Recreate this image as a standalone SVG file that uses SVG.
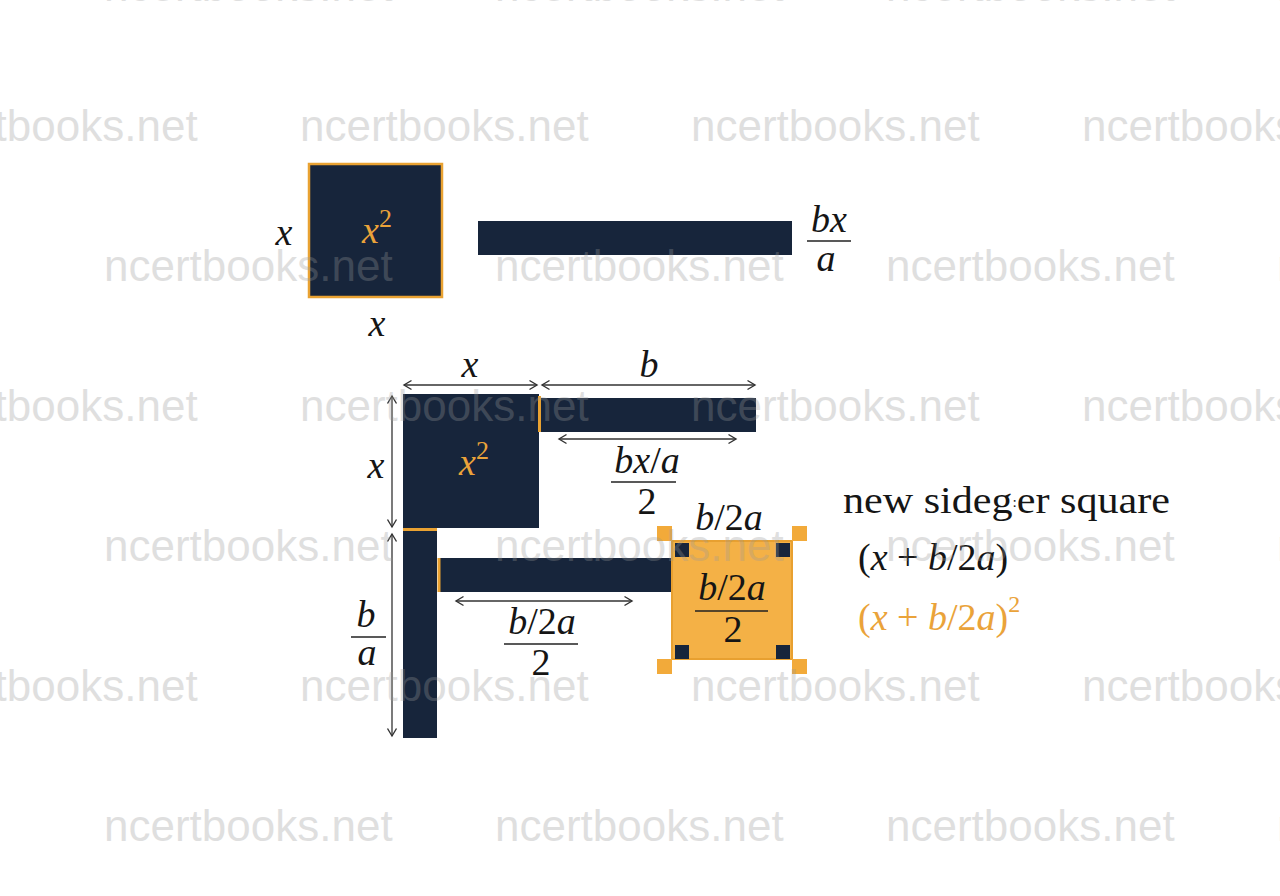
<svg xmlns="http://www.w3.org/2000/svg" width="1280" height="896" viewBox="0 0 1280 896">
<style>
.navy{fill:#17253b}
.ostripe{stroke:#e9a232;stroke-width:3;fill:none}
.dim{stroke:#333;stroke-width:1.3;fill:none}
.m{font-family:"Liberation Serif",serif;font-size:38px;fill:#151515}
.i{font-style:italic}
.or{fill:#eaa33a}
.fl{stroke:#222;stroke-width:1.5}
.wm{font-family:"Liberation Sans",Arial,sans-serif;font-size:44px;fill:#999;opacity:0.3}
</style>
<defs>
<marker id="arr" viewBox="-10 -6 12 12" markerWidth="12" markerHeight="12" refX="0" refY="0" orient="auto-start-reverse" markerUnits="userSpaceOnUse">
<path d="M-7.5,-4.5 L0,0 L-7.5,4.5" fill="none" stroke="#333" stroke-width="1.4"/>
</marker>
</defs>
<rect width="1280" height="896" fill="#ffffff"/>

<g id="top-square">
<rect x="309" y="164" width="133" height="133" class="navy" stroke="#e9a232" stroke-width="2.5"/>
<text x="377" y="243" text-anchor="middle" class="m or" font-size="40"><tspan class="i">x</tspan><tspan font-size="26" dy="-16">2</tspan></text>
<text x="284" y="245" text-anchor="middle" class="m i" font-size="40">x</text>
<text x="377" y="336" text-anchor="middle" class="m i" font-size="40">x</text>
</g>

<g id="top-bar">
<rect x="478" y="221" width="314" height="34" class="navy"/>
<text x="829" y="232" text-anchor="middle" class="m i">bx</text>
<line x1="807" y1="241" x2="851" y2="241" class="fl"/>
<text x="826" y="271" text-anchor="middle" class="m i">a</text>
</g>

<g id="middle-square">
<rect x="403" y="394" width="136" height="134" class="navy"/>
<text x="474" y="475" text-anchor="middle" class="m or" font-size="40"><tspan class="i">x</tspan><tspan font-size="26" dy="-16">2</tspan></text>
<text x="376" y="478" text-anchor="middle" class="m i" font-size="40">x</text>
<text x="470" y="377" text-anchor="middle" class="m i" font-size="40">x</text>
</g>

<g id="bar-b">
<rect x="541" y="398" width="215" height="34" class="navy"/>
<line x1="539.5" y1="396" x2="539.5" y2="432" class="ostripe"/>
<text x="649" y="377" text-anchor="middle" class="m i">b</text>
<text x="647" y="473" text-anchor="middle" class="m"><tspan class="i">bx</tspan>/<tspan class="i">a</tspan></text>
<line x1="611" y1="482" x2="676" y2="482" class="fl"/>
<text x="647" y="514" text-anchor="middle" class="m">2</text>
</g>

<g id="vertical-bar">
<rect x="403" y="529" width="34" height="209" class="navy"/>
<line x1="403" y1="529.5" x2="437" y2="529.5" class="ostripe"/>
<text x="366" y="627" text-anchor="middle" class="m i">b</text>
<line x1="351" y1="637" x2="386" y2="637" class="fl"/>
<text x="367" y="665" text-anchor="middle" class="m i">a</text>
</g>

<g id="bar-half">
<rect x="440" y="558" width="232" height="34" class="navy"/>
<line x1="439" y1="558" x2="439" y2="592" class="ostripe"/>
<text x="542" y="634" text-anchor="middle" class="m"><tspan class="i">b</tspan>/2<tspan class="i">a</tspan></text>
<line x1="504" y1="644" x2="578" y2="644" class="fl"/>
<text x="541" y="675" text-anchor="middle" class="m">2</text>
</g>

<g id="orange-square">
<rect x="672" y="541" width="120" height="118" fill="#f4b146" stroke="#e8a030" stroke-width="2"/>
<rect x="657" y="526" width="15" height="15" fill="#f2aa3a"/>
<rect x="792" y="526" width="15" height="15" fill="#f2aa3a"/>
<rect x="657" y="659" width="15" height="15" fill="#f2aa3a"/>
<rect x="792" y="659" width="15" height="15" fill="#f2aa3a"/>
<rect x="675" y="543" width="14" height="14" class="navy"/>
<rect x="776" y="543" width="14" height="14" class="navy"/>
<rect x="675" y="645" width="14" height="14" class="navy"/>
<rect x="776" y="645" width="14" height="14" class="navy"/>
<text x="729" y="530" text-anchor="middle" class="m"><tspan class="i">b</tspan>/2<tspan class="i">a</tspan></text>
<text x="732" y="600" text-anchor="middle" class="m"><tspan class="i">b</tspan>/2<tspan class="i">a</tspan></text>
<line x1="695" y1="611" x2="768" y2="611" class="fl"/>
<text x="733" y="642" text-anchor="middle" class="m">2</text>
</g>

<g id="connectors">
<line x1="404" y1="385" x2="537" y2="385" class="dim" marker-start="url(#arr)" marker-end="url(#arr)"/>
<line x1="542" y1="385" x2="755" y2="385" class="dim" marker-start="url(#arr)" marker-end="url(#arr)"/>
<line x1="559" y1="439" x2="736" y2="439" class="dim" marker-start="url(#arr)" marker-end="url(#arr)"/>
<line x1="392" y1="396" x2="392" y2="527" class="dim" marker-start="url(#arr)" marker-end="url(#arr)"/>
<line x1="392" y1="534" x2="392" y2="736" class="dim" marker-start="url(#arr)" marker-end="url(#arr)"/>
<line x1="456" y1="601" x2="632" y2="601" class="dim" marker-start="url(#arr)" marker-end="url(#arr)"/>
</g>

<g id="legend">
<text x="843" y="513" class="m" font-size="40" textLength="327" lengthAdjust="spacingAndGlyphs">new sideg<tspan font-size="14" dy="-6">:</tspan><tspan dy="6">er square</tspan></text>
<text x="858" y="570" class="m" font-size="40">(<tspan class="i">x</tspan> + <tspan class="i">b</tspan>/2<tspan class="i">a</tspan>)</text>
<text x="858" y="630" class="m or" font-size="40">(<tspan class="i">x</tspan> + <tspan class="i">b</tspan>/2<tspan class="i">a</tspan>)<tspan font-size="24" dy="-18">2</tspan></text>
</g>

<g id="watermarks" class="wm">
<text x="104" y="1">ncertbooks.net</text><text x="495" y="1">ncertbooks.net</text><text x="886" y="1">ncertbooks.net</text><text x="1277" y="1">ncertbooks.net</text>
<text x="-91" y="141">ncertbooks.net</text><text x="300" y="141">ncertbooks.net</text><text x="691" y="141">ncertbooks.net</text><text x="1082" y="141">ncertbooks.net</text>
<text x="104" y="281">ncertbooks.net</text><text x="495" y="281">ncertbooks.net</text><text x="886" y="281">ncertbooks.net</text><text x="1277" y="281">ncertbooks.net</text>
<text x="-91" y="421">ncertbooks.net</text><text x="300" y="421">ncertbooks.net</text><text x="691" y="421">ncertbooks.net</text><text x="1082" y="421">ncertbooks.net</text>
<text x="104" y="561">ncertbooks.net</text><text x="495" y="561">ncertbooks.net</text><text x="886" y="561">ncertbooks.net</text><text x="1277" y="561">ncertbooks.net</text>
<text x="-91" y="701">ncertbooks.net</text><text x="300" y="701">ncertbooks.net</text><text x="691" y="701">ncertbooks.net</text><text x="1082" y="701">ncertbooks.net</text>
<text x="104" y="841">ncertbooks.net</text><text x="495" y="841">ncertbooks.net</text><text x="886" y="841">ncertbooks.net</text><text x="1277" y="841">ncertbooks.net</text>
</g>
</svg>
